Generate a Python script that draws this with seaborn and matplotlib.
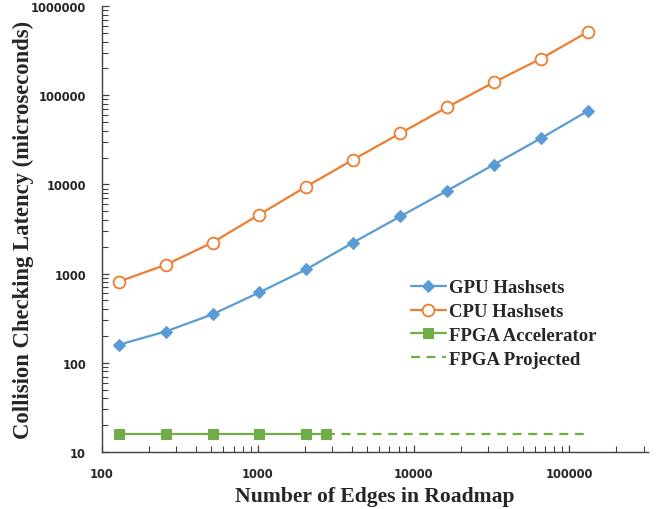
import matplotlib
matplotlib.use("Agg")
import matplotlib.pyplot as plt
import matplotlib.ticker as mticker
import seaborn as sns

# Data
edges = [128, 256, 512, 1024, 2048, 4096, 8192, 16384, 32768, 65536, 131072]
gpu_latency = [159, 224, 349, 615, 1117, 2230, 4370, 8500, 16700, 32900, 66700]
cpu_latency = [813, 1253, 2230, 4600, 9480, 19000, 37400, 73300, 140000, 257000, 514000]

fpga_edges = [128, 256, 512, 1024, 2048, 2750]
fpga_latency = [16, 16, 16, 16, 16, 16]

proj_edges = [2750, 131072]
proj_latency = [16, 16]

sns.set_style("white")
plt.rcParams['font.family'] = ['Liberation Serif', 'DejaVu Serif']

fig, ax = plt.subplots(figsize=(6.58, 5.10), dpi=100)
fig.subplots_adjust(left=0.155, right=0.985, bottom=0.112, top=0.986)

sns.lineplot(x=edges, y=gpu_latency, ax=ax, color='#5B9BD5', lw=1.6,
             marker='D', markersize=6.5, markeredgecolor='#5B9BD5', label='GPU Hashsets')
sns.lineplot(x=edges, y=cpu_latency, ax=ax, color='#ED7D31', lw=1.6,
             marker='o', markersize=8.5, markerfacecolor='white', markeredgecolor='#ED7D31',
             markeredgewidth=1.3, label='CPU Hashsets')
sns.lineplot(x=fpga_edges, y=fpga_latency, ax=ax, color='#70AD47', lw=1.6,
             marker='s', markersize=7, markeredgecolor='#70AD47', label='FPGA Accelerator')
sns.lineplot(x=proj_edges, y=proj_latency, ax=ax, color='#70AD47', lw=1.6,
             linestyle=(0, (4, 3)), label='FPGA Projected')

ax.set_xscale('log')
ax.set_yscale('log')
ax.set_xlim(100, 320000)
ax.set_ylim(10, 1000000)

fmt = mticker.FuncFormatter(lambda v, p: f"{int(round(v))}")
ax.xaxis.set_major_formatter(fmt)
ax.yaxis.set_major_formatter(fmt)
ax.xaxis.set_minor_formatter(mticker.NullFormatter())
ax.yaxis.set_minor_formatter(mticker.NullFormatter())
ax.xaxis.set_major_locator(mticker.LogLocator(base=10, numticks=10))
ax.yaxis.set_major_locator(mticker.LogLocator(base=10, numticks=10))
ax.xaxis.set_minor_locator(mticker.LogLocator(base=10, subs=range(2, 10), numticks=20))
ax.yaxis.set_minor_locator(mticker.LogLocator(base=10, subs=range(2, 10), numticks=20))

for side in ['top', 'right']:
    ax.spines[side].set_visible(False)
for side in ['left', 'bottom']:
    ax.spines[side].set_color('#404040')
    ax.spines[side].set_linewidth(1.0)

ax.tick_params(which='major', direction='in', length=5, width=0.9, color='#404040',
               labelsize=8.3)
ax.tick_params(axis='x', which='major', pad=11)
ax.tick_params(axis='y', which='major', pad=11.5)
ax.tick_params(which='minor', direction='in', length=4, width=0.8, color='#404040')
ax.tick_params(axis='both', which='both', left=True, bottom=True)
for lbl in ax.get_xticklabels() + ax.get_yticklabels():
    lbl.set_fontfamily('DejaVu Sans')
    lbl.set_fontweight('bold')

ax.set_xlabel('Number of Edges in Roadmap', fontsize=15.6, fontweight='bold', labelpad=4)
ax.set_ylabel('Collision Checking Latency (microseconds)', fontsize=16.3,
              fontweight='bold', labelpad=-2.5)

# legend sits in the lower right, without a frame
leg = ax.legend(loc='upper left', bbox_to_anchor=(0.534, 0.425), frameon=False,
                prop={'family': 'Liberation Serif', 'weight': 'bold', 'size': 13.5},
                handlelength=1.9, labelspacing=0.35, handletextpad=0.15)

plt.savefig('out.png', dpi=100)
